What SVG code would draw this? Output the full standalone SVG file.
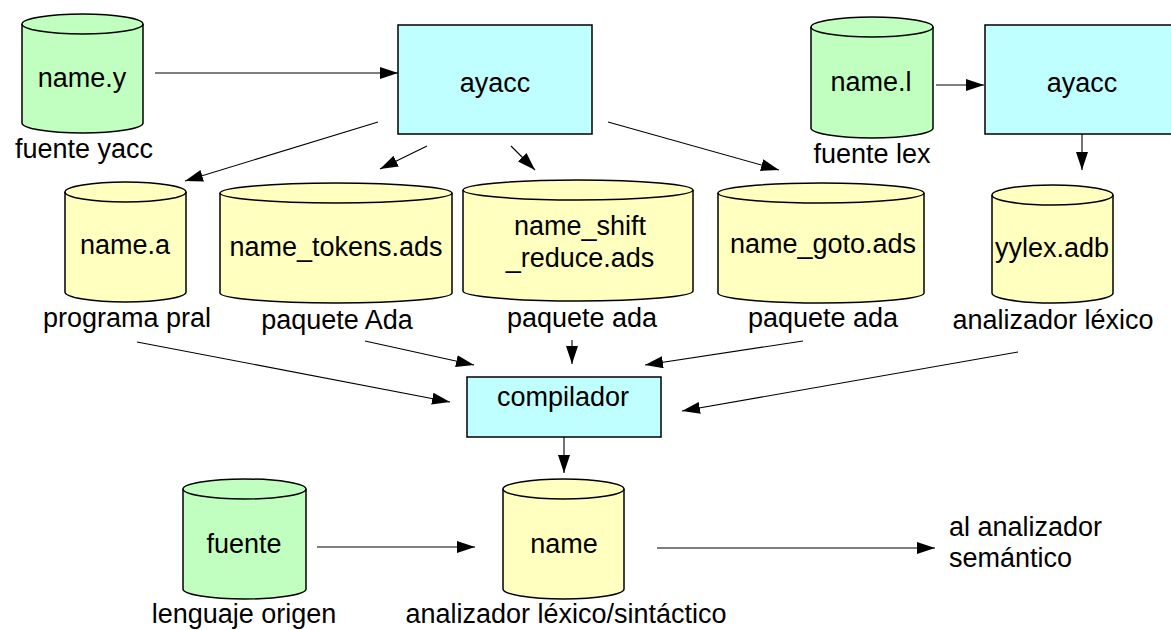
<svg xmlns="http://www.w3.org/2000/svg" width="1171" height="630" viewBox="0 0 1171 630">
  <style>
    text { font-family: "Liberation Sans", Arial, sans-serif; font-size: 27px; fill: #000; }
    .c { text-anchor: middle; }
    .src { fill: #c0ffc0; stroke: #000; stroke-width: 1.5; }
    .out { fill: #ffffc0; stroke: #000; stroke-width: 1.5; }
    .proc { fill: #c0ffff; stroke: #000; stroke-width: 1.5; }
    .rim { fill: none; stroke: #000; stroke-width: 1.5; }
    .edge { fill: none; stroke: #000; stroke-width: 1.1; marker-end: url(#arrow); }
  </style>
  <defs>
    <marker id="arrow" markerUnits="userSpaceOnUse" markerWidth="19" markerHeight="13" refX="18" refY="6" orient="auto">
      <path d="M0,0 L18,6 L0,12 z" fill="#000"/>
    </marker>
  </defs>

  <rect width="1171" height="630" fill="#fff"/>

  <!-- connectors -->
  <g id="connectors">
    <line class="edge" x1="155" y1="73" x2="398" y2="73"/>
    <line class="edge" x1="378" y1="122" x2="185" y2="181"/>
    <line class="edge" x1="427" y1="146" x2="380" y2="169"/>
    <line class="edge" x1="511" y1="146" x2="535" y2="170"/>
    <line class="edge" x1="608" y1="122" x2="779" y2="170"/>
    <line class="edge" x1="936" y1="85" x2="984" y2="85"/>
    <line class="edge" x1="1082" y1="134" x2="1082" y2="170"/>
    <line class="edge" x1="137" y1="342" x2="450" y2="402"/>
    <line class="edge" x1="365" y1="341" x2="474" y2="365"/>
    <line class="edge" x1="572" y1="340" x2="572" y2="364"/>
    <line class="edge" x1="803" y1="341" x2="645" y2="365"/>
    <line class="edge" x1="1018" y1="352" x2="682" y2="411"/>
    <line class="edge" x1="564" y1="437" x2="564" y2="473"/>
    <line class="edge" x1="317" y1="547" x2="475" y2="547"/>
    <line class="edge" x1="657" y1="548" x2="935" y2="548"/>
  </g>

  <!-- name.y -->
  <g id="name_y">
    <path class="src" d="M22,24 A60.5,10 0 0 1 143,24 V123 A60.5,10 0 0 1 22,123 Z"/>
    <path class="rim" d="M22,24 A60.5,10 0 0 0 143,24"/>
    <text class="c" x="82" y="87">name.y</text>
    <text class="c" x="84" y="158">fuente yacc</text>
  </g>

  <!-- ayacc (parser generator) -->
  <g id="ayacc">
    <rect class="proc" x="398" y="25" width="194" height="109"/>
    <text class="c" x="495" y="92">ayacc</text>
  </g>

  <!-- name.l -->
  <g id="name_l">
    <path class="src" d="M811,27 A61,10 0 0 1 933,27 V128 A61,10 0 0 1 811,128 Z"/>
    <path class="rim" d="M811,27 A61,10 0 0 0 933,27"/>
    <text class="c" x="871" y="91">name.l</text>
    <text class="c" x="872" y="163">fuente lex</text>
  </g>

  <!-- ayacc (lexer generator) -->
  <g id="ayacc_lex">
    <rect class="proc" x="985" y="25" width="200" height="109"/>
    <text class="c" x="1082" y="92">ayacc</text>
  </g>

  <!-- name.a -->
  <g id="name_a">
    <path class="out" d="M65,192 A60.5,10 0 0 1 186,192 V292 A60.5,10 0 0 1 65,292 Z"/>
    <path class="rim" d="M65,192 A60.5,10 0 0 0 186,192"/>
    <text class="c" x="125" y="254">name.a</text>
    <text class="c" x="127" y="327">programa pral</text>
  </g>

  <!-- name_tokens.ads -->
  <g id="name_tokens">
    <path class="out" d="M220,193 A116,10 0 0 1 452,193 V293 A116,10 0 0 1 220,293 Z"/>
    <path class="rim" d="M220,193 A116,10 0 0 0 452,193"/>
    <text class="c" x="336" y="256">name_tokens.ads</text>
    <text class="c" x="337" y="329">paquete Ada</text>
  </g>

  <!-- name_shift_reduce.ads -->
  <g id="name_shift_reduce">
    <path class="out" d="M463,190 A115,10 0 0 1 693,190 V291 A115,10 0 0 1 463,291 Z"/>
    <path class="rim" d="M463,190 A115,10 0 0 0 693,190"/>
    <text class="c" x="580" y="235">name_shift</text>
    <text class="c" x="580" y="267">_reduce.ads</text>
    <text class="c" x="582" y="327">paquete ada</text>
  </g>

  <!-- name_goto.ads -->
  <g id="name_goto">
    <path class="out" d="M718,193 A103,10 0 0 1 924,193 V293 A103,10 0 0 1 718,293 Z"/>
    <path class="rim" d="M718,193 A103,10 0 0 0 924,193"/>
    <text class="c" x="823" y="253">name_goto.ads</text>
    <text class="c" x="823" y="327">paquete ada</text>
  </g>

  <!-- yylex.adb -->
  <g id="yylex">
    <path class="out" d="M992,195 A60.5,10 0 0 1 1113,195 V293 A60.5,10 0 0 1 992,293 Z"/>
    <path class="rim" d="M992,195 A60.5,10 0 0 0 1113,195"/>
    <text class="c" x="1052" y="257">yylex.adb</text>
    <text class="c" x="1053" y="329">analizador léxico</text>
  </g>

  <!-- compilador -->
  <g id="compilador">
    <rect class="proc" x="467" y="377" width="194" height="60"/>
    <text class="c" x="563" y="406">compilador</text>
  </g>

  <!-- fuente -->
  <g id="fuente">
    <path class="src" d="M183,489 A61.5,10 0 0 1 306,489 V589 A61.5,10 0 0 1 183,589 Z"/>
    <path class="rim" d="M183,489 A61.5,10 0 0 0 306,489"/>
    <text class="c" x="244" y="553">fuente</text>
    <text class="c" x="244" y="623">lenguaje origen</text>
  </g>

  <!-- name -->
  <g id="name">
    <path class="out" d="M503,489 A60.5,10 0 0 1 624,489 V589 A60.5,10 0 0 1 503,589 Z"/>
    <path class="rim" d="M503,489 A60.5,10 0 0 0 624,489"/>
    <text class="c" x="564" y="553">name</text>
    <text class="c" x="566" y="623">analizador léxico/sintáctico</text>
  </g>

  <!-- output label -->
  <g id="semantico">
    <text x="949" y="536">al analizador</text>
    <text x="949" y="567">semántico</text>
  </g>
</svg>
